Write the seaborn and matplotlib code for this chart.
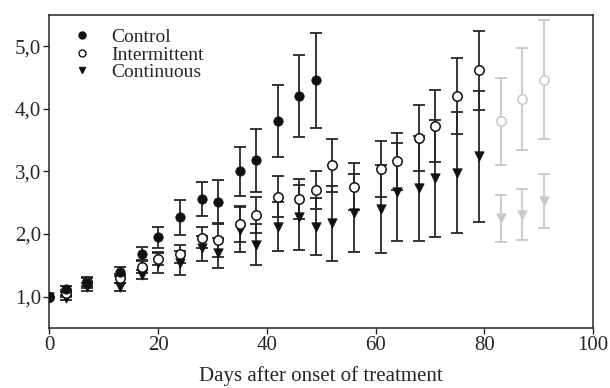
import numpy as np
import seaborn as sns
import matplotlib.pyplot as plt
from matplotlib.lines import Line2D

# days after onset of treatment
days_control = [0, 3, 7, 13, 17, 20, 24, 28, 31, 35, 38, 42, 46, 49]
days = [0, 3, 7, 13, 17, 20, 24, 28, 31, 35, 38, 42, 46, 49, 52, 56, 61, 64, 68, 71, 75, 79]
days_late = [83, 87, 91]

control = [1.0, 1.12, 1.22, 1.40, 1.68, 1.95, 2.27, 2.56, 2.52, 3.00, 3.18, 3.81, 4.21, 4.46]
control_err = [0.0, 0.05, 0.08, 0.07, 0.11, 0.17, 0.28, 0.27, 0.35, 0.39, 0.50, 0.58, 0.66, 0.76]

intermittent = [1.0, 1.05, 1.24, 1.29, 1.48, 1.60, 1.68, 1.94, 1.90, 2.16, 2.30, 2.60,
                2.56, 2.70, 3.10, 2.76, 3.04, 3.16, 3.54, 3.73, 4.21, 4.62]
intermittent_err = [0.0, 0.05, 0.07, 0.07, 0.10, 0.10, 0.15, 0.17, 0.26, 0.29, 0.29, 0.32,
                    0.32, 0.30, 0.42, 0.37, 0.45, 0.46, 0.53, 0.58, 0.61, 0.63]
intermittent_late = [3.80, 4.16, 4.47]
intermittent_late_err = [0.69, 0.81, 0.95]

continuous = [1.0, 0.98, 1.15, 1.15, 1.35, 1.54, 1.54, 1.77, 1.69, 2.07, 1.83, 2.12,
              2.27, 2.12, 2.17, 2.34, 2.40, 2.67, 2.73, 2.89, 2.98, 3.24]
continuous_err = [0.0, 0.04, 0.06, 0.06, 0.07, 0.17, 0.19, 0.20, 0.24, 0.36, 0.33, 0.39,
                  0.52, 0.46, 0.60, 0.62, 0.70, 0.78, 0.84, 0.93, 0.97, 1.04]
continuous_late = [2.25, 2.31, 2.53]
continuous_late_err = [0.38, 0.41, 0.43]

sns.set_style("ticks")
plt.rcParams["font.family"] = ["Liberation Serif", "DejaVu Serif"]

fig = plt.figure(figsize=(6.1, 3.88), dpi=100)
ax = fig.add_axes([0.081, 0.155, 0.891, 0.806])

dark = "#262626"
gray = "#c8c8c8"
ms = 46

def bars(x, y, e, c):
    ax.errorbar(x, y, yerr=e, fmt="none", ecolor=c, elinewidth=1.3, capsize=4.2, capthick=1.3, zorder=2)

bars(days, continuous, continuous_err, dark)
bars(days_late, continuous_late, continuous_late_err, gray)
bars(days, intermittent, intermittent_err, dark)
bars(days_late, intermittent_late, intermittent_late_err, gray)
bars(days_control, control, control_err, dark)

sns.scatterplot(x=days, y=continuous, marker="v", s=ms, color="#111111", edgecolor="#111111", linewidth=0.5, ax=ax, zorder=3)
sns.scatterplot(x=days_late, y=continuous_late, marker="v", s=ms, color=gray, edgecolor=gray, linewidth=0.5, ax=ax, zorder=3)
sns.scatterplot(x=days, y=intermittent, marker="o", s=ms, color="white", edgecolor="#111111", linewidth=1.1, ax=ax, zorder=4)
sns.scatterplot(x=days_late, y=intermittent_late, marker="o", s=ms, color="white", edgecolor=gray, linewidth=1.1, ax=ax, zorder=4)
sns.scatterplot(x=days_control, y=control, marker="o", s=ms, color="#111111", edgecolor="#111111", linewidth=0.5, ax=ax, zorder=5)

ax.set_xlim(0, 100)
ax.set_ylim(0.5, 5.5)
ax.set_xticks([0, 20, 40, 60, 80, 100])
ax.set_yticks([1, 2, 3, 4, 5])
ax.set_yticklabels(["1,0", "2,0", "3,0", "4,0", "5,0"])
ax.tick_params(axis="both", labelsize=15, length=4, width=1, color=dark, pad=2)
ax.tick_params(top=False, right=False)
for s in ax.spines.values():
    s.set_color(dark)
    s.set_linewidth(1.1)
ax.set_xlabel("Days after onset of treatment", fontsize=15, labelpad=8)

handles = [
    Line2D([], [], linestyle="none", marker="o", markersize=5, color="#111111"),
    Line2D([], [], linestyle="none", marker="o", markersize=5, markerfacecolor="white", markeredgecolor="#111111"),
    Line2D([], [], linestyle="none", marker="v", markersize=5, color="#111111"),
]
ax.legend(handles, ["Control", "Intermittent", "Continuous"], loc="upper left",
          bbox_to_anchor=(0.02, 0.995), frameon=False, fontsize=14,
          handlelength=1.0, handletextpad=1.0, labelspacing=0.0, borderaxespad=0.2)

fig.savefig("out.png", dpi=100)
